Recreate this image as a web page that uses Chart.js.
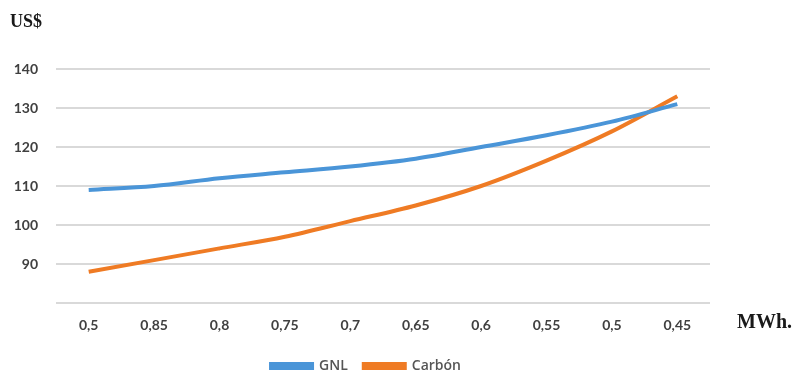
<!DOCTYPE html>
<html>
<head>
<meta charset="utf-8">
<script src="https://cdn.jsdelivr.net/npm/chart.js@4"></script>
<style>
  html, body { margin: 0; padding: 0; background: #ffffff; }
  #wrap { width: 797px; height: 375px; position: relative; }
</style>
</head>
<body>
<div id="wrap"><canvas id="c" width="797" height="375"></canvas></div>
<script>
// Cost per MWh for each plant efficiency step
const categories = ['0,5', '0,85', '0,8', '0,75', '0,7', '0,65', '0,6', '0,55', '0,5', '0,45'];
const gnlValues = [109, 110, 112, 113.5, 115, 117, 120, 123, 126.5, 131];
const carbonValues = [88, 91, 94, 97, 101, 105, 110, 116.5, 124, 133];
const yTicks = [80, 90, 100, 110, 120, 130, 140];

const tickFont = { family: 'Lato', size: 14, weight: 'bold' };

// Unit captions and legend nudge
const extras = {
  id: 'extras',
  afterLayout(chart) {
    const lg = chart.legend;
    lg.top += 8; lg.bottom += 8;
    lg.left += 11; lg.right += 11;
  },
  afterDraw(chart) {
    const ctx = chart.ctx;
    ctx.save();
    ctx.fillStyle = '#1a1a1a';
    ctx.textBaseline = 'alphabetic';
    ctx.font = 'bold 18px "Liberation Serif"';
    ctx.fillText('US$', 10, 27);
    ctx.font = 'bold 20px "Liberation Serif"';
    ctx.fillText('MWh.', 737, 328);
    ctx.restore();
  }
};

new Chart(document.getElementById('c'), {
  type: 'line',
  data: {
    labels: categories,
    datasets: [
      {
        label: 'GNL',
        data: gnlValues,
        borderColor: '#4a95d8',
        backgroundColor: '#4a95d8',
        borderWidth: 4,
        pointRadius: 0,
        cubicInterpolationMode: 'monotone',
        fill: false
      },
      {
        label: 'Carbón',
        data: carbonValues,
        borderColor: '#ef7b24',
        backgroundColor: '#ef7b24',
        borderWidth: 4,
        pointRadius: 0,
        cubicInterpolationMode: 'monotone',
        fill: false
      }
    ]
  },
  options: {
    responsive: false,
    animation: false,
    devicePixelRatio: 1,
    layout: { padding: { top: 69, right: 87, left: 0, bottom: 0 } },
    plugins: {
      tooltip: { enabled: false },
      legend: {
        position: 'bottom',
        labels: {
          boxWidth: 41,
          boxHeight: 4,
          padding: 16,
          color: '#555555',
          font: { family: 'Open Sans', size: 14, weight: '600' }
        }
      }
    },
    scales: {
      x: {
        offset: true,
        grid: { display: false, drawTicks: false },
        border: { display: false },
        ticks: { color: '#404040', font: tickFont, padding: 14, maxRotation: 0 },
        afterFit(scale) { scale.height = 32; }
      },
      y: {
        min: 80,
        max: 140,
        afterBuildTicks(scale) { scale.ticks = yTicks.map(v => ({ value: v })); },
        grid: { color: '#d9d9d9', lineWidth: 2, drawTicks: false },
        border: { display: false },
        ticks: {
          color: '#404040',
          font: tickFont,
          padding: 18,
          callback: v => (v === 80 ? '' : String(v))
        },
        afterFit(scale) { scale.width = 56; }
      }
    }
  },
  plugins: [extras]
});
</script>
</body>
</html>
